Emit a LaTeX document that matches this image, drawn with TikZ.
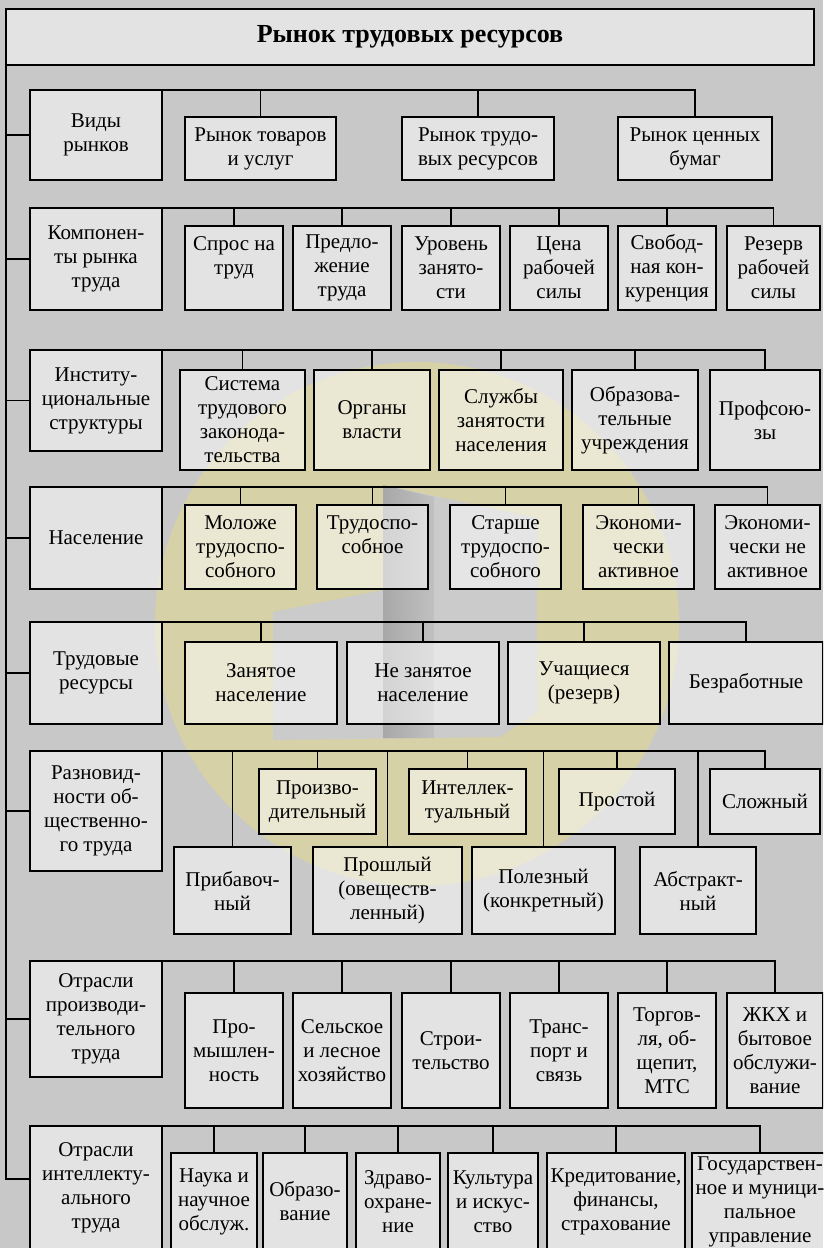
\documentclass[tikz,border=0pt]{standalone}
\usepackage{fontspec}
\setmainfont{Liberation Serif}
\definecolor{paper}{HTML}{C8C8C8}
\definecolor{sunring}{HTML}{D6D1A6}
\definecolor{logodark}{HTML}{A8A8A8}
\definecolor{logoshade}{HTML}{C0C0C0}
\definecolor{logopale}{HTML}{CBCBCB}
% box given by its corners: \bx[style]{name}{x1}{y1}{x2}{y2}{text}
\newcommand\bx[7][cell]{%
  \pgfmathsetmacro\bxcx{(#3+#5)/2}%
  \pgfmathsetmacro\bxcy{(#4+#6)/2}%
  \pgfmathsetmacro\bxw{#5-#3}%
  \pgfmathsetmacro\bxh{#6-#4}%
  \node[#1, minimum width=\bxw pt, minimum height=\bxh pt] (#2) at (\bxcx,\bxcy) {#7};}
\begin{document}
\begin{tikzpicture}[x=1pt, y=-1pt,
  cell/.style={draw=black, line width=1.6pt, fill=white, fill opacity=0.5,
    text opacity=1, inner sep=0pt, outer sep=0pt, align=center,
    font=\fontsize{21}{24}\selectfont},
  headbox/.style={cell, font=\fontsize{26}{30}\selectfont\bfseries},
  wire/.style={line width=1.6pt, line cap=rect}]
\fill[paper] (0,0) rectangle (823,1248);
\useasboundingbox (0,0) rectangle (823,1248);
\clip (0,0) rectangle (823,1248);

% faint emblem in the background
\fill[sunring] (417,624) circle [radius=262];
\fill[logopale] (273,612) -- (383,590) -- (383,485) -- (537,518) -- (537,712)
  -- (500,737) -- (273,740) -- cycle;
\shade[left color=logodark, right color=logoshade]
  (383,485) -- (434,497) -- (434,738) -- (383,738) -- cycle;

% title and main spine
\bx[headbox]{title}{6}{9}{814}{65}{Рынок трудовых ресурсов}
\coordinate (t8) at (30,1179);

% row 1
\bx{c1}{30}{90}{162}{180}{Виды\\рынков}
\bx{a11}{185}{117}{336}{180}{Рынок товаров\\и услуг}
\bx{a12}{402}{117}{554}{180}{Рынок трудо-\\вых ресурсов}
\bx{a13}{618}{117}{772}{180}{Рынок ценных\\бумаг}

% row 2
\bx{c2}{30}{208}{162}{310}{Компонен-\\ты рынка\\труда}
\bx{a21}{185}{226}{283}{310}{Спрос на\\труд\\~}
\bx{a22}{293}{226}{391}{310}{Предло-\\жение\\труда}
\bx{a23}{402}{226}{500}{310}{Уровень\\занято-\\сти}
\bx{a24}{510}{226}{608}{310}{Цена\\рабочей\\силы}
\bx{a25}{618}{226}{716}{310}{Свобод-\\ная кон-\\куренция}
\bx{a26}{727}{226}{820}{310}{Резерв\\рабочей\\силы}

% row 3
\bx{c3}{30}{350}{162}{451}{Институ-\\циональные\\структуры}
\bx{a31}{180}{370}{305}{470}{Система\\трудового\\законода-\\тельства}
\bx{a32}{314}{370}{430}{470}{Органы\\власти}
\bx{a33}{439}{370}{563}{470}{Службы\\занятости\\населения}
\bx{a34}{572}{370}{698}{470}{Образова-\\тельные\\учреждения}
\bx{a35}{710}{370}{820}{470}{Профсою-\\зы}

% row 4
\bx{c4}{30}{487}{162}{589}{Население}
\bx{a41}{185}{505}{296}{589}{Моложе\\трудоспо-\\собного}
\bx{a42}{317}{505}{428}{589}{Трудоспо-\\собное\\~}
\bx{a43}{450}{505}{561}{589}{Старше\\трудоспо-\\собного}
\bx{a44}{583}{505}{694}{589}{Экономи-\\чески\\активное}
\bx{a45}{715}{505}{820}{589}{Экономи-\\чески не\\активное}

% row 5
\bx{c5}{30}{622}{162}{724}{Трудовые\\ресурсы}
\bx{a51}{185}{642}{337}{724}{Занятое\\население}
\bx{a52}{347}{642}{499}{724}{Не занятое\\население}
\bx{a53}{508}{642}{660}{724}{Учащиеся\\(резерв)}
\bx{a54}{669}{642}{823}{724}{Безработные}

% row 6
\bx{c6}{30}{751}{162}{871}{Разновид-\\ности об-\\щественно-\\го труда}
\bx{a61}{174}{847}{291}{934}{Прибавоч-\\ный}
\bx{a62}{259}{769}{376}{834}{Произво-\\дительный}
\bx{a63}{313}{847}{462}{934}{Прошлый\\(овеществ-\\ленный)}
\bx{a64}{409}{769}{526}{834}{Интеллек-\\туальный}
\bx{a65}{472}{847}{615}{934}{Полезный\\(конкретный)}
\bx{a66}{559}{769}{675}{834}{Простой}
\bx{a67}{640}{847}{756}{934}{Абстракт-\\ный}
\bx{a68}{710}{769}{820}{834}{Сложный}

% row 7
\bx{c7}{30}{961}{162}{1077}{Отрасли\\производи-\\тельного\\труда}
\bx{a71}{185}{993}{283}{1108}{Про-\\мышлен-\\ность}
\bx{a72}{293}{993}{391}{1108}{Сельское\\и лесное\\хозяйство}
\bx{a73}{402}{993}{500}{1108}{Строи-\\тельство}
\bx{a74}{510}{993}{608}{1108}{Транс-\\порт и\\связь}
\bx{a75}{618}{993}{716}{1108}{Торгов-\\ля, об-\\щепит,\\МТС}
\bx{a76}{727}{993}{823}{1108}{ЖКХ и\\бытовое\\обслужи-\\вание}

% row 8
\bx{c8}{30}{1126}{162}{1250}{Отрасли\\интеллекту-\\ального\\труда}
\bx{a81}{171}{1153}{257}{1250}{Наука и\\научное\\обслуж.}
\bx{a82}{263}{1153}{347}{1250}{Образо-\\вание}
\bx{a83}{356}{1153}{440}{1250}{Здраво-\\охране-\\ние}
\bx{a84}{448}{1153}{538}{1250}{Культура\\и искус-\\ство}
\bx{a85}{547}{1153}{685}{1250}{Кредитование,\\финансы,\\страхование}
\bx{a86}{692}{1153}{828}{1250}{Государствен-\\ное и муници-\\пальное\\управление}

% spine with its ticks
\draw[wire] (title.south west) -- (title.south west |- t8) -- (t8);
\foreach \c in {c1,c2,c3,c4,c5,c6,c7}
  \draw[wire] (title.south west |- \c.west) -- (\c.west);

% branch lines of each row
\foreach \c/\last/\kids in {
  c1/a13/{a11,a12,a13},
  c2/a26/{a21,a22,a23,a24,a25,a26},
  c3/a35/{a31,a32,a33,a34,a35},
  c4/a45/{a41,a42,a43,a44,a45},
  c5/a54/{a51,a52,a53,a54},
  c6/a68/{a61,a62,a63,a64,a65,a66,a67,a68},
  c7/a76/{a71,a72,a73,a74,a75,a76},
  c8/a86/{a81,a82,a83,a84,a85,a86}}{
  \draw[wire] (\c.north east) -- (\c.north east -| \last.north);
  \foreach \k in \kids
    \draw[wire] (\k.north) -- (\k.north |- \c.north east);
}
\end{tikzpicture}
\end{document}
